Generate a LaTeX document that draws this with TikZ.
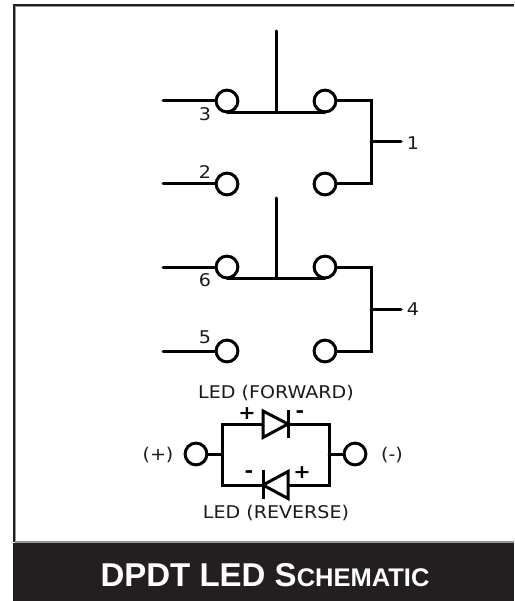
\documentclass[tikz,border=0pt]{standalone}
\usepackage{fontspec}
\setmainfont{DejaVu Sans}[FakeStretch=1.09]
\newfontfamily\titlefont{Liberation Sans}
\usepackage{color}
\definecolor{bannerblack}{RGB}{35,31,32}
\definecolor{edgegray}{RGB}{150,150,150}
\tikzset{
    wire/.style={black,line width=3pt,line cap=round,line join=miter},
    term/.style={circle,draw=black,fill=white,line width=3pt,minimum size=21.8pt,inner sep=0pt},
    lab/.style={inner sep=0pt,font=\fontsize{17.5}{20}\selectfont,text=black!90},
    sign/.style={inner sep=0pt,font=\fontsize{19}{20}\selectfont\bfseries,text=black}
}
\begin{document}
\begin{tikzpicture}[x=1pt,y=-1pt]
        \useasboundingbox (0,0) rectangle (514,601);
        % frame and banner
        \fill[edgegray] (13,4) rectangle (514,6.6);
        \fill[edgegray] (13,4) rectangle (16,542);
        \fill[bannerblack] (13,4) rectangle (514,6);
        \fill[bannerblack] (13,4) rectangle (15,542);
        \fill[edgegray] (15,541) rectangle (514,543);
        \fill[bannerblack] (13,542.6) rectangle (514,601);
        \node[inner sep=0pt,text=white] (title) at (265,575) {\titlefont\bfseries\fontsize{33}{36}\selectfont DPDT LED S\fontsize{25.5}{36}\selectfont CHEMATIC};
        % upper switch
        \coordinate(T3in) at (163,101);
        \coordinate(T2in) at (163,184);
        \coordinate(S1top) at (276,31);
        \coordinate(S1mid) at (276,112.5);
        \coordinate(S1left) at (227,112.5);
        \coordinate(S1right) at (325,112.5);
        \coordinate(R1a) at (371,101);
        \coordinate(R1b) at (371,184);
        \coordinate(R1c) at (371,142);
        \coordinate(R1d) at (401,142);
        \node[term] (t3) at (227,101) {};
        \node[term] (t2) at (227,184) {};
        \node[term] (a1) at (325,101) {};
        \node[term] (b1) at (325,184) {};
        \draw[wire](T3in)--(t3);
        \draw[wire](T2in)--(t2);
        \draw[wire](S1top)--(S1mid);
        \draw[wire](S1left)--(S1right);
        \draw[wire](a1)--(R1a)--(R1b)--(b1);
        \draw[wire](R1c)--(R1d);
        \node[lab] (n3) at (205,114) {3};
        \node[lab] (n2) at (205,172) {2};
        \node[lab] (n1) at (413,143) {1};
        % lower switch
        \coordinate(T6in) at (163,267);
        \coordinate(T5in) at (163,351);
        \coordinate(S2top) at (276,198);
        \coordinate(S2mid) at (276,278.5);
        \coordinate(S2left) at (227,278.5);
        \coordinate(S2right) at (325,278.5);
        \coordinate(R2a) at (371,267);
        \coordinate(R2b) at (371,351);
        \coordinate(R2c) at (371,309);
        \coordinate(R2d) at (401,309);
        \node[term] (t6) at (227,267) {};
        \node[term] (t5) at (227,351) {};
        \node[term] (a2) at (325,267) {};
        \node[term] (b2) at (325,351) {};
        \draw[wire](T6in)--(t6);
        \draw[wire](T5in)--(t5);
        \draw[wire](S2top)--(S2mid);
        \draw[wire](S2left)--(S2right);
        \draw[wire](a2)--(R2a)--(R2b)--(b2);
        \draw[wire](R2c)--(R2d);
        \node[lab] (n6) at (205,280) {6};
        \node[lab] (n5) at (205,337) {5};
        \node[lab] (n4) at (413,309) {4};
        % LED pair
        \coordinate(LA) at (222,454);
        \coordinate(LB) at (222,424);
        \coordinate(LC) at (222,485);
        \coordinate(RA) at (329,454);
        \coordinate(RB) at (329,424);
        \coordinate(RC) at (329,485);
        \node[term] (plus) at (196,454) {};
        \node[term] (minus) at (355,454) {};
        \draw[wire](plus)--(LA);
        \draw[wire](minus)--(RA);
        \draw[wire](RB)--(LB)--(LC)--(RC)--cycle;
        \draw[wire,fill=white](263,411)--(288,424)--(263,437.5)--cycle;
        \draw[wire,line cap=butt](288,410)--(288,438);
        \draw[wire,fill=white](288,471.5)--(263,485)--(288,498.5)--cycle;
        \draw[wire,line cap=butt](263,470)--(263,499);
        \node[lab] (fwd) at (276,393) {LED (FORWARD)};
        \node[lab] (rev) at (276,513) {LED (REVERSE)};
        \node[lab] (lplus) at (158,455) {(+)};
        \node[lab] (lminus) at (392,455) {(-)};
        \node[sign] (s1) at (247,414) {+};
        \node[sign] (s2) at (300,414) {-};
        \node[sign] (s3) at (249,474) {-};
        \node[sign] (s4) at (302,473) {+};
    \end{tikzpicture}
\end{document}
